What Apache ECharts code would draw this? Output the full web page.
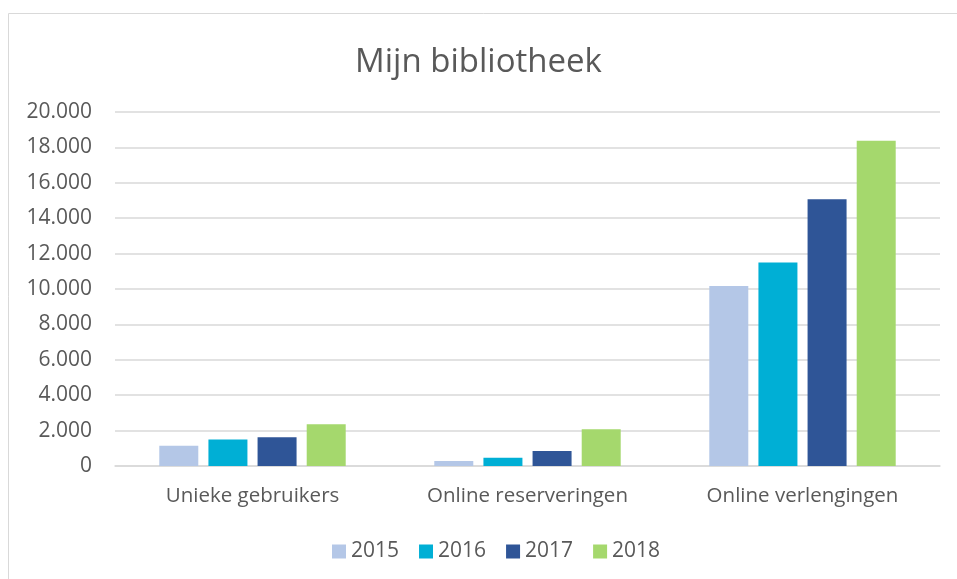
<!DOCTYPE html>
<html>
<head>
<meta charset="utf-8">
<script src="https://cdn.jsdelivr.net/npm/echarts@6/dist/echarts.min.js"></script>
<style>
  html, body { margin: 0; padding: 0; background: #fff; }
  #chart { width: 957px; height: 579px; }
</style>
</head>
<body>
<div id="chart"></div>
<script>
// categorieen en waarden per jaar
const categories = ["Unieke gebruikers", "Online reserveringen", "Online verlengingen"];
const years = ["2015", "2016", "2017", "2018"];
const values2015 = [1150, 280, 10170];
const values2016 = [1500, 470, 11500];
const values2017 = [1620, 850, 15070];
const values2018 = [2360, 2070, 18380];
const colors = ["#B4C7E7", "#00AFD5", "#2F5597", "#A5D86D"];

const fontFamily = "'Open Sans', sans-serif";
const textColor = "#595959";

const chart = echarts.init(document.getElementById("chart"));

const allValues = [values2015, values2016, values2017, values2018];

chart.setOption({
  animation: false,
  textStyle: { fontFamily: fontFamily },
  graphic: [
    {
      type: "rect",
      shape: { x: 8.5, y: 13.5, width: 960, height: 580 },
      style: { fill: "none", stroke: "#d9d9d9", lineWidth: 1 },
      silent: true,
    },
  ],
  title: {
    text: "Mijn bibliotheek",
    left: "center",
    top: 41,
    textStyle: {
      fontFamily: fontFamily,
      fontSize: 33,
      fontWeight: "normal",
      color: textColor,
    },
  },
  legend: {
    data: years,
    bottom: 12,
    left: 327,
    itemWidth: 14,
    itemHeight: 14,
    itemGap: 20,
    icon: "rect",
    textStyle: { fontFamily: fontFamily, fontSize: 21, color: textColor },
  },
  grid: {
    left: 115,
    right: 17,
    top: 112,
    bottom: 113,
    containLabel: false,
  },
  xAxis: {
    type: "category",
    data: categories,
    axisLine: { lineStyle: { color: "#d9d9d9", width: 1.5 } },
    axisTick: { show: false },
    axisLabel: {
      fontFamily: fontFamily,
      fontSize: 20.5,
      color: textColor,
      margin: 20,
    },
  },
  yAxis: {
    type: "value",
    min: 0,
    max: 20000,
    interval: 2000,
    axisLine: { show: false },
    axisTick: { show: false },
    splitLine: { lineStyle: { color: "#d9d9d9", width: 1.5 } },
    axisLabel: {
      fontFamily: fontFamily,
      fontSize: 21,
      color: textColor,
      margin: 23,
      formatter: function (v) {
        return v === 0 ? "0" : v.toLocaleString("nl-NL");
      },
    },
  },
  series: years.map(function (y, i) {
    return {
      name: y,
      type: "bar",
      barWidth: 39,
      barGap: "26%",
      data: allValues[i],
      itemStyle: { color: colors[i] },
    };
  }),
});
</script>
</body>
</html>
